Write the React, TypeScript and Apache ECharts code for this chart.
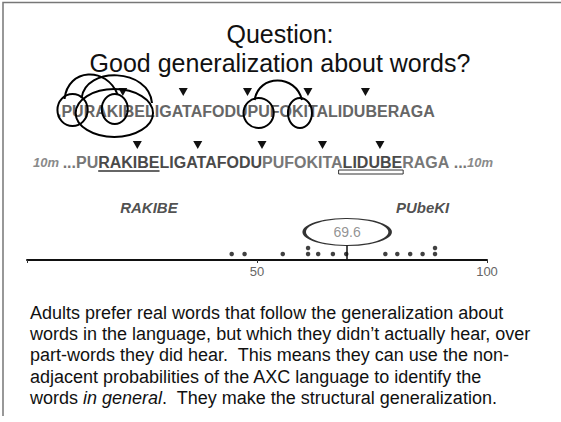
import React, { useEffect, useRef } from "react";
import * as echarts from "echarts";

const TITLE_LINES = ["Question:", "Good generalization about words?"];
const STREAM = "PURAKIBELIGATAFODUPUFOKITALIDUBERAGA";
const WORD_BOUNDARIES = [6, 12, 18, 24, 30];
const DURATION_LABEL = "10m";
const GROUP_LABELS = ["RAKIBE", "PUbeKI"];
const GROUP_LABEL_X = [26.5, 86];
const SCORES = [44.5, 47.3, 55.6, 61.1, 61.1, 63.3, 66.5, 69.4, 77.9, 80.5, 83.3, 86.0, 88.7, 88.7];
const MEAN_SCORE = 69.6;
const AXIS_TICKS = [50, 100];
const PARAGRAPH = [
  "Adults prefer real words that follow the generalization about",
  "words in the language, but which they didn\u2019t actually hear, over",
  "part-words they did hear.  This means they can use the non-",
  "adjacent probabilities of the AXC language to identify the",
  "{n|words }{i|in general}{n|.  They make the structural generalization.}",
];

const FONT = "Liberation Sans";

function makeMeasure() {
  const c = document.createElement("canvas");
  const ctx = c.getContext("2d")!;
  return (text: string, font: string) => {
    ctx.font = font;
    return ctx.measureText(text).width;
  };
}

export default function App() {
  const ref = useRef<HTMLDivElement>(null);
  useEffect(() => {
    document.body.style.margin = "0";
    const chart = echarts.init(ref.current!, null, { renderer: "svg" });
    const measure = makeMeasure();
    const boldF = `bold 16px "${FONT}"`;
    const itF = `italic bold 13px "${FONT}"`;

    // Row 1
    const r1x = 57, r1y = 111;
    const X1 = (i: number) => r1x + measure("." + STREAM.slice(0, i), boldF);
    // Row 2
    const r2x = 33, r2y = 162;
    const s2 = r2x + measure(DURATION_LABEL + " ", itF) + measure("...", boldF);
    const X2 = (i: number) => s2 + measure(STREAM.slice(0, i), boldF);

    const tri = (x: number, yTop: number) => ({
      type: "polygon",
      shape: { points: [[x - 4.5, yTop], [x + 4.5, yTop], [x, yTop + 8]] },
      style: { fill: "#111" },
      silent: true,
    });
    const ell = (a: number, b: number, X: (i: number) => number, cy: number, padX: number, ry: number) => ({
      type: "ellipse",
      shape: { cx: (X(a) + X(b)) / 2, cy, rx: (X(b) - X(a)) / 2 + padX, ry },
      style: { fill: "none", stroke: "#000", lineWidth: 2 },
      z: 10,
    });

    const pu1 = (X1(0) + X1(2)) / 2;
    const ki1 = (X1(4) + X1(6)) / 2;
    const be1 = X1(8);
    const pu2 = (X1(18) + X1(20)) / 2;
    const ki2 = (X1(22) + X1(24)) / 2;

    const graphics: any[] = [
      {
        type: "polyline",
        shape: { points: [[3, 416], [3, 2.5], [561, 2.5]] },
        style: { stroke: "#777", lineWidth: 1.5, fill: "none" },
      },
      {
        type: "text",
        x: 280,
        y: 19,
        style: {
          text: TITLE_LINES.join("\n"),
          fontFamily: FONT,
          fontSize: 25,
          lineHeight: 29,
          fill: "#111",
          align: "center",
          verticalAlign: "top",
        },
      },
      {
        type: "text",
        x: r1x,
        y: r1y,
        style: {
          text: "." + STREAM,
          fontFamily: FONT,
          fontWeight: "bold",
          fontSize: 16,
          fill: "#666",
          verticalAlign: "middle",
        },
      },
      ...WORD_BOUNDARIES.map((b) => tri(X1(b), r1y - 23)),
      ell(0, 2, X1, 110, 4, 16),
      ell(4, 6, X1, 109, 5, 15),
      ell(2, 8, X1, 113, 8, 24),
      ell(18, 20, X1, 113, 4, 15),
      ell(22, 24, X1, 113, 4, 15),
      {
        type: "bezierCurve",
        shape: { x1: pu1 - 8, y1: 99, cpx1: pu1 - 5, cpy1: 68, cpx2: ki1 - 8, cpy2: 66, x2: ki1 + 3, y2: 95 },
        style: { stroke: "#000", lineWidth: 2, fill: "none" },
        z: 10,
      },
      {
        type: "bezierCurve",
        shape: { x1: pu1 + 9, y1: 98, cpx1: pu1 + 13, cpy1: 66, cpx2: be1 + 4, cpy2: 68, x2: be1 + 7, y2: 103 },
        style: { stroke: "#000", lineWidth: 2, fill: "none" },
        z: 10,
      },
      {
        type: "bezierCurve",
        shape: { x1: pu2 - 4, y1: 100, cpx1: pu2, cpy1: 74, cpx2: ki2 - 4, cpy2: 74, x2: ki2 + 2, y2: 100 },
        style: { stroke: "#000", lineWidth: 2, fill: "none" },
        z: 10,
      },
      {
        type: "text",
        x: r2x,
        y: r2y,
        style: {
          text:
            `{it|${DURATION_LABEL} }{g|...}{g|${STREAM.slice(0, 2)}}{d|${STREAM.slice(2, 18)}}` +
            `{g|${STREAM.slice(18, 26)}}{d|${STREAM.slice(26, 32)}}{g|${STREAM.slice(32)}}{g| ...}{it|${DURATION_LABEL}}`,
          verticalAlign: "middle",
          rich: {
            it: { fontFamily: FONT, fontStyle: "italic", fontWeight: "bold", fontSize: 13, fill: "#8a8a8a" },
            g: { fontFamily: FONT, fontWeight: "bold", fontSize: 16, fill: "#777" },
            d: { fontFamily: FONT, fontWeight: "bold", fontSize: 16, fill: "#4a4a4a" },
          },
        },
      },
      ...WORD_BOUNDARIES.map((b) => tri(X2(b), r2y - 21)),
      {
        type: "line",
        shape: { x1: X2(2), y1: r2y + 9, x2: X2(8), y2: r2y + 9 },
        style: { stroke: "#333", lineWidth: 1.5 },
      },
      {
        type: "rect",
        shape: { x: X2(26) - 4, y: r2y + 8, width: X2(32) - X2(26) + 5, height: 4 },
        style: { stroke: "#333", lineWidth: 1, fill: "#fff" },
      },
      {
        type: "text",
        x: 30,
        y: 302,
        style: {
          text: PARAGRAPH.slice(0, 4).join("\n") + "\n" + PARAGRAPH[4],
          fontFamily: FONT,
          fontSize: 18,
          lineHeight: 21.3,
          fill: "#111",
          verticalAlign: "top",
          rich: {
            n: { fontFamily: FONT, fontSize: 18, lineHeight: 21.3, fill: "#111" },
            i: { fontFamily: FONT, fontSize: 18, lineHeight: 21.3, fill: "#111", fontStyle: "italic" },
          },
        },
      },
    ];

    // stack duplicates
    const seen: Record<string, number> = {};
    const dots = SCORES.map((v) => {
      const k = String(v);
      seen[k] = (seen[k] || 0) + 1;
      return [v, seen[k]];
    });

    chart.setOption({
      animation: false,
      backgroundColor: "#fff",
      grid: { left: 27, right: 74, top: 200, bottom: 162 },
      xAxis: {
        type: "value",
        min: 0,
        max: 100,
        interval: 50,
        splitLine: { show: false },
        axisLine: { lineStyle: { color: "#111", width: 2 } },
        axisTick: { show: true, length: 3, lineStyle: { color: "#333" } },
        axisLabel: {
          color: "#666",
          fontFamily: FONT,
          fontSize: 13,
          margin: 5,
          formatter: (v: number) => (AXIS_TICKS.includes(v) ? String(v) : ""),
        },
      },
      yAxis: { type: "value", min: 0, max: 10, show: false },
      series: [
        {
          type: "scatter",
          data: dots,
          symbolSize: 4.5,
          itemStyle: { color: "#111" },
          silent: true,
          markLine: {
            silent: true,
            symbol: "none",
            label: { show: false },
            lineStyle: { color: "#111", width: 1.5, type: "solid" },
            data: [[{ coord: [MEAN_SCORE, 0] }, { coord: [MEAN_SCORE, 2.4] }]],
          },
        },
        {
          type: "scatter",
          data: [[MEAN_SCORE, 4.67]],
          symbol: "circle",
          symbolSize: [86, 27],
          itemStyle: { color: "rgba(0,0,0,0)", borderColor: "#000", borderWidth: 2 },
          label: {
            show: true,
            position: "inside",
            formatter: String(MEAN_SCORE),
            color: "#777",
            fontFamily: FONT,
            fontSize: 14,
          },
          silent: true,
        },
        {
          type: "scatter",
          data: GROUP_LABEL_X.map((x) => [x, 8.8]),
          symbolSize: 0,
          label: {
            show: true,
            position: "inside",
            formatter: (p: any) => GROUP_LABELS[p.dataIndex],
            color: "#222",
            fontFamily: FONT,
            fontWeight: "bold",
            fontStyle: "italic",
            fontSize: 15,
          },
          silent: true,
        },
      ],
      graphic: graphics,
    });
    return () => chart.dispose();
  }, []);
  return (
    <div
      ref={ref}
      style={{ position: "absolute", left: 0, top: 0, width: 561, height: 422, background: "#fff" }}
    />
  );
}
